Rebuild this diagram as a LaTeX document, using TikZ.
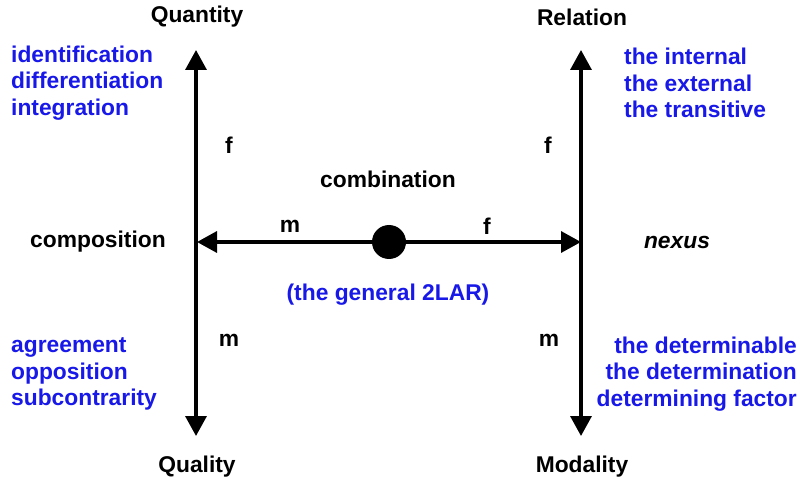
\documentclass[tikz,border=0pt]{standalone}
\usepackage{fontspec}
\setmainfont{Liberation Sans}
\usetikzlibrary{arrows.meta}
\definecolor{termblue}{RGB}{24,24,232}
\tikzset{
  lbl/.style={font=\fontsize{22.8}{26.5}\selectfont\bfseries, inner sep=0pt},
  bluelist/.style={lbl, text=termblue},
  tip/.style={Triangle[width=21pt,length=20pt]},
  axis/.style={line width=3.4pt, -{Triangle[width=21pt,length=20pt]}},
  twoway/.style={line width=3.4pt, {Triangle[width=21pt,length=20pt]}-{Triangle[width=21pt,length=20pt]}}
}
\begin{document}
\begin{tikzpicture}[x=1pt, y=-1pt]
    \useasboundingbox (0,0) rectangle (798,481);
    % Nodes
    \node[lbl] (quantity) at (197,17) {Quantity};
    \node[lbl] (relation) at (582,17) {Relation};
    \node[lbl] (quality) at (197,467) {Quality};
    \node[lbl] (modality) at (582,467) {Modality};
    \node[lbl] (comp) at (98,242) {composition};
    \node[lbl, font=\fontsize{22.8}{26.5}\selectfont\bfseries\itshape] (nexus) at (677,242) {nexus};
    \node[lbl] (comb) at (388,179) {combination};
    \node[bluelist] (general) at (388,295) {(the general 2LAR)};
    \node[lbl] (hm) at (290,226) {m};
    \node[lbl] (hf) at (487,226) {f};
    \node[lbl] (lf) at (229,145) {f};
    \node[lbl] (rf) at (548,145) {f};
    \node[lbl] (lm) at (229,340) {m};
    \node[lbl] (rm) at (549,340) {m};
    \node[bluelist, anchor=west, align=left] (quantlist) at (11,83) {identification\\differentiation\\integration};
    \node[bluelist, anchor=west, align=left] (rellist) at (624,83) {the internal\\the external\\the transitive};
    \node[bluelist, anchor=west, align=left] (quallist) at (11,374) {agreement\\opposition\\subcontrarity};
    \node[bluelist, anchor=east, align=right] (modlist) at (797,374) {the determinable\\the determination\\determining factor};
    \node[circle, fill=black, minimum size=34pt, inner sep=0pt] (dot) at (389,242) {};

    % Arrow ends
    \coordinate (ltop) at (196,50);
    \coordinate (lbot) at (196,436);
    \coordinate (rtop) at (581,50);
    \coordinate (rbot) at (581,436);
    \coordinate (hleft) at (197,242);
    \coordinate (hright) at (581,242);

    % Arrows
    \draw[twoway] (ltop) -- (lbot);
    \draw[twoway] (rtop) -- (rbot);
    \draw[axis] (dot) -- (hleft);
    \draw[axis] (dot) -- (hright);
\end{tikzpicture}
\end{document}
